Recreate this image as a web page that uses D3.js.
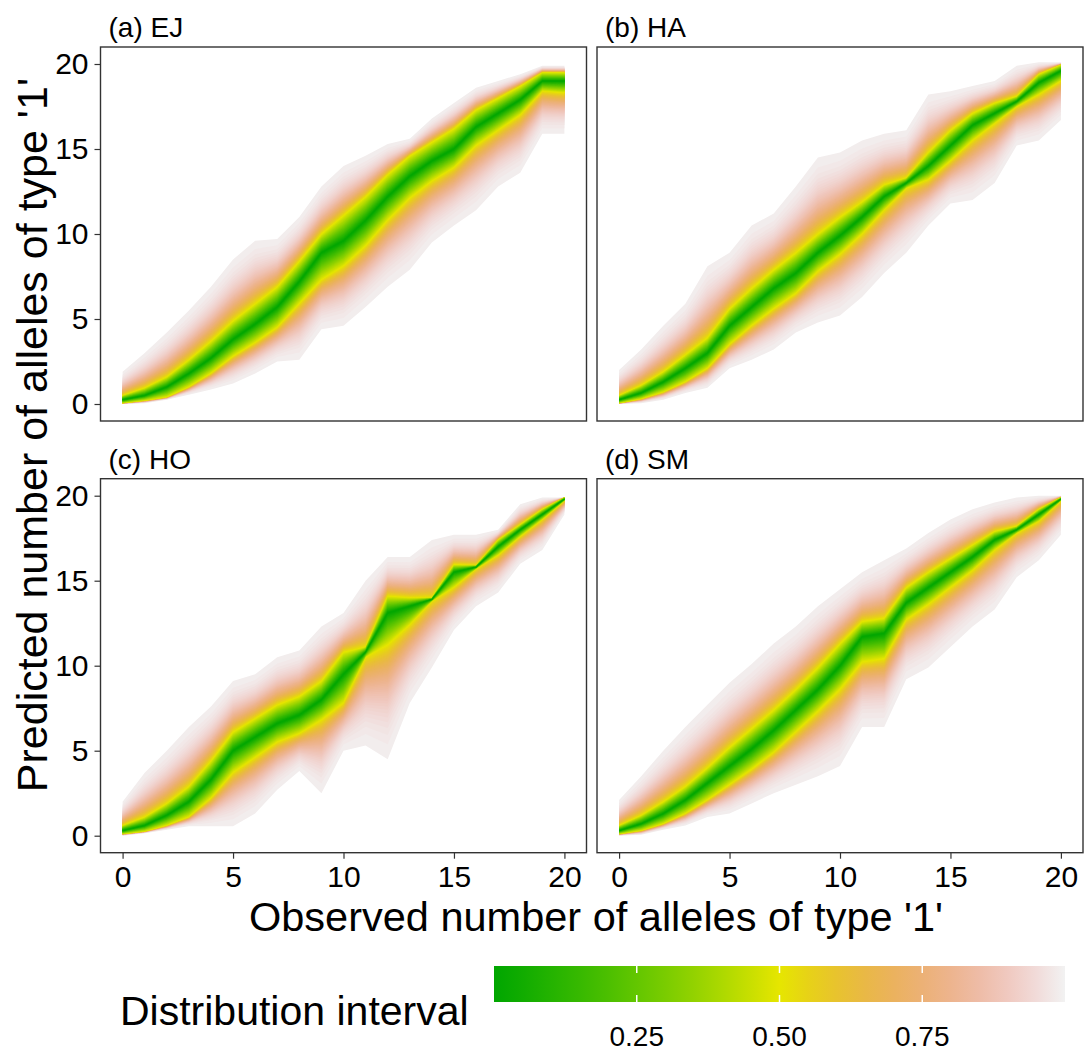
<!DOCTYPE html>
<html lang="en">
<head>
<meta charset="UTF-8">
<title>Distribution intervals</title>
<script src="https://d3js.org/d3.v7.min.js"></script>
<style>
  body { margin: 0; background: #fff; }
  svg text { font-family: "Liberation Sans", Arial, sans-serif; fill: #000; }
</style>
</head>
<body>
<svg width="1084" height="1055"></svg>
<script>
// observed counts (x axis)
const observed = [0,1,2,3,4,5,6,7,8,9,10,11,12,13,14,15,16,17,18,19,20];

// (a) EJ
const ejMed  = [0.25,0.5,1.0,1.8,2.7,3.8,4.7,5.7,7.2,8.9,9.6,10.8,12.2,13.4,14.3,15.0,16.3,17.1,17.9,19.0,19.0];
const ejLo50 = [0.05,0.2,0.4,1.0,1.8,2.8,3.6,4.5,5.9,7.3,8.1,9.3,10.8,12.1,13.1,13.9,15.2,16.1,17.0,18.4,18.3];
const ejHi50 = [0.5,0.95,1.6,2.6,3.7,4.9,5.9,6.9,8.4,10.0,11.1,12.2,13.5,14.6,15.4,16.2,17.3,18.0,18.7,19.5,19.5];
const ejLo99 = [0,0.05,0.25,0.55,0.85,1.2,1.8,2.5,2.6,4.4,4.6,5.7,6.9,7.9,9.5,10.5,11.4,12.8,13.6,15.9,15.9];
const ejHi99 = [1.9,3.0,4.2,5.5,6.9,8.5,9.6,9.7,11.0,12.8,14.0,14.6,15.3,15.6,16.8,17.7,18.6,19.0,19.4,19.9,19.9];

// (b) HA
const haMed  = [0.25,0.65,1.3,2.1,3.0,4.6,5.7,6.8,7.7,8.9,9.9,11.0,12.2,13.0,14.0,15.2,16.4,17.1,17.8,18.9,19.6];
const haLo50 = [0.05,0.3,0.7,1.3,2.1,3.5,4.6,5.6,6.5,7.8,8.8,10.0,11.4,12.7,13.2,14.3,15.5,16.5,17.5,18.2,19.0];
const haHi50 = [0.5,1.1,1.9,2.9,3.9,5.6,6.8,7.9,8.9,10.0,11.0,11.9,12.9,13.3,14.8,16.1,17.1,17.7,18.1,19.4,19.95];
const haLo99 = [0,0.05,0.25,0.65,0.95,2.1,2.6,3.2,4.2,4.8,5.2,6.3,7.7,8.9,10.5,11.8,12.0,13.0,15.2,15.5,16.7];
const haHi99 = [2.0,3.2,4.6,5.9,8.1,8.9,10.5,11.2,12.8,14.5,14.8,15.5,15.9,16.1,18.2,18.4,18.7,19.0,19.9,20.1,20.1];

// (c) HO
const hoMed  = [0.3,0.6,1.2,2.0,3.3,5.0,5.8,6.6,7.1,8.0,9.5,10.8,13.1,13.5,13.9,15.5,15.8,17.0,18.0,18.9,19.8];
const hoLo50 = [0.1,0.25,0.6,1.1,2.2,3.7,4.6,5.5,6.0,6.8,7.8,10.5,11.2,12.4,13.8,14.6,15.7,16.5,17.6,18.6,19.7];
const hoHi50 = [0.6,1.1,1.9,2.9,4.4,6.1,6.9,7.7,8.2,9.1,10.8,11.1,14.1,14.0,14.0,15.95,15.9,17.4,18.3,19.2,19.9];
const hoLo99 = [0,0.15,0.35,0.55,0.55,0.55,1.3,2.7,3.8,2.5,5.0,5.3,4.5,7.8,9.9,12.1,13.5,14.3,16.0,16.8,18.9];
const hoHi99 = [2.0,3.7,5.0,6.4,7.6,9.1,9.5,10.5,10.9,12.3,13.1,15.0,16.4,16.4,17.4,17.7,17.7,18.0,19.5,19.9,19.9];

// (d) SM
const smMed  = [0.3,0.7,1.3,2.1,3.1,4.1,5.1,6.2,7.4,8.6,10.0,11.7,11.9,13.7,14.6,15.5,16.4,17.4,18.0,18.9,19.8];
const smLo50 = [0.1,0.3,0.7,1.3,2.1,3.0,3.9,4.9,6.1,7.3,8.6,10.2,10.4,12.7,13.6,14.6,15.6,16.8,17.8,18.5,19.7];
const smHi50 = [0.6,1.2,2.0,2.9,4.0,5.2,6.3,7.4,8.6,9.9,11.3,12.6,12.8,14.6,15.5,16.3,17.1,17.9,18.2,19.2,19.9];
const smLo99 = [0,0.05,0.35,0.6,1.1,1.3,1.9,2.5,3.0,3.5,4.1,6.4,6.4,9.2,9.9,11.1,12.3,13.3,15.2,16.2,17.7];
const smHi99 = [2.1,3.5,5.0,6.4,7.7,9.0,10.1,11.3,12.3,13.5,14.5,15.5,16.2,16.9,17.8,18.6,19.2,19.6,19.9,20.0,20.0];

const panelLabels = ["(a) EJ", "(b) HA", "(c) HO", "(d) SM"];
const axisTicks = [0, 5, 10, 15, 20];
const legendTicks = [0.25, 0.50, 0.75];

const panels = [
  { label: panelLabels[0], med: ejMed, lo50: ejLo50, hi50: ejHi50, lo99: ejLo99, hi99: ejHi99, col: 0, row: 0 },
  { label: panelLabels[1], med: haMed, lo50: haLo50, hi50: haHi50, lo99: haLo99, hi99: haHi99, col: 1, row: 0 },
  { label: panelLabels[2], med: hoMed, lo50: hoLo50, hi50: hoHi50, lo99: hoLo99, hi99: hoHi99, col: 0, row: 1 },
  { label: panelLabels[3], med: smMed, lo50: smLo50, hi50: smHi50, lo99: smLo99, hi99: smHi99, col: 1, row: 1 }
];

// terrain.colors style ramp: green -> yellow -> light grey
function terrain(t) {
  let h, s, v;
  if (t <= 0.5) { const u = t / 0.5; h = 120 - 60 * u; s = 1; v = 0.65 + 0.25 * u; }
  else { const u = (t - 0.5) / 0.5; h = 60 - 60 * u; s = 1 - u; v = 0.9 + 0.05 * u; }
  const c = v * s, hp = h / 60, xx = c * (1 - Math.abs(hp % 2 - 1)), m = v - c;
  let r = 0, g = 0, b = 0;
  if (hp < 1) { r = c; g = xx; } else if (hp < 2) { r = xx; g = c; } else { g = c; b = xx; }
  return d3.rgb((r + m) * 255, (g + m) * 255, (b + m) * 255).formatHex();
}

// normal quantile, used to shade between the read interval edges
function probit(q) {
  const t = Math.sqrt(-2 * Math.log(1 - q));
  return t - (2.515517 + 0.802853 * t + 0.010328 * t * t) /
    (1 + 1.432788 * t + 0.189269 * t * t + 0.001308 * t * t * t);
}
const zOf = p => Math.max(0, probit((1 + p) / 2));
const z50 = zOf(0.5), z99 = zOf(0.99);
function bound(med, b50, b99, p) {
  if (p <= 0.5) return med + (b50 - med) * zOf(p) / z50;
  return b50 + (b99 - b50) * (zOf(p) - z50) / (z99 - z50);
}

const svg = d3.select("svg");
const defs = svg.append("defs");

const colX = [100.5, 597], rowY = [47, 478.7];
const pw = 486, ph = 374;

// shading levels, widest first
const levels = d3.range(99, 0, -1).map(k => k / 100);

panels.forEach((p, pi) => {
  const left = colX[p.col], top = rowY[p.row];
  const x = d3.scaleLinear().domain([-1, 21]).range([left, left + pw]);
  const y = d3.scaleLinear().domain([-1, 21]).range([top + ph, top]);

  const rows = observed.map((o, i) => ({ obs: o, med: p.med[i], lo50: p.lo50[i], hi50: p.hi50[i], lo99: p.lo99[i], hi99: p.hi99[i] }));

  defs.append("clipPath").attr("id", "clip" + pi)
    .append("rect").attr("x", left).attr("y", top).attr("width", pw).attr("height", ph);

  const g = svg.append("g").attr("clip-path", "url(#clip" + pi + ")");

  levels.forEach(lv => {
    const area = d3.area()
      .x(d => x(d.obs))
      .y0(d => y(bound(d.med, d.lo50, d.lo99, lv)))
      .y1(d => y(bound(d.med, d.hi50, d.hi99, lv)));
    g.append("path")
      .attr("d", area(rows))
      .attr("fill", terrain(lv));
  });

  // panel border
  svg.append("rect")
    .attr("x", left).attr("y", top).attr("width", pw).attr("height", ph)
    .attr("fill", "none").attr("stroke", "#333").attr("stroke-width", 1.4);

  // strip label
  svg.append("text")
    .attr("x", left + 8).attr("y", top - 10)
    .attr("font-size", 28)
    .text(p.label);

  if (p.col === 0) {
    const ax = svg.append("g")
      .attr("transform", "translate(" + left + ",0)")
      .call(d3.axisLeft(y).tickValues(axisTicks).tickSize(6).tickPadding(6));
    ax.select(".domain").remove();
    ax.selectAll("line").attr("stroke", "#333").attr("stroke-width", 1.2);
    ax.selectAll("text").attr("font-size", 30).attr("fill", "#000")
      .style("font-family", "'Liberation Sans', Arial, sans-serif");
  }
  if (p.row === 1) {
    const ax = svg.append("g")
      .attr("transform", "translate(0," + (top + ph) + ")")
      .call(d3.axisBottom(x).tickValues(axisTicks).tickSize(6).tickPadding(7));
    ax.select(".domain").remove();
    ax.selectAll("line").attr("stroke", "#333").attr("stroke-width", 1.2);
    ax.selectAll("text").attr("font-size", 30).attr("fill", "#000")
      .style("font-family", "'Liberation Sans', Arial, sans-serif");
  }
});

// axis titles
svg.append("text")
  .attr("x", 596).attr("y", 931)
  .attr("text-anchor", "middle")
  .attr("font-size", 41.5)
  .text("Observed number of alleles of type '1'");

svg.append("text")
  .attr("transform", "translate(47,435) rotate(-90)")
  .attr("text-anchor", "middle")
  .attr("font-size", 43)
  .text("Predicted number of alleles of type '1'");

// colour legend
const lx = d3.scaleLinear().domain([0, 1]).range([494, 1065]);
const grad = defs.append("linearGradient").attr("id", "legendGrad")
  .attr("x1", "0%").attr("x2", "100%").attr("y1", "0%").attr("y2", "0%");
d3.range(0, 21).map(k => k / 20).forEach(t => {
  grad.append("stop").attr("offset", (t * 100) + "%").attr("stop-color", terrain(t));
});

svg.append("rect")
  .attr("x", lx(0)).attr("y", 966)
  .attr("width", lx(1) - lx(0)).attr("height", 36)
  .attr("fill", "url(#legendGrad)");

legendTicks.forEach(t => {
  svg.append("line").attr("x1", lx(t)).attr("x2", lx(t)).attr("y1", 966).attr("y2", 973)
    .attr("stroke", "#fff").attr("stroke-width", 1.5);
  svg.append("line").attr("x1", lx(t)).attr("x2", lx(t)).attr("y1", 995).attr("y2", 1002)
    .attr("stroke", "#fff").attr("stroke-width", 1.5);
  svg.append("text")
    .attr("x", lx(t)).attr("y", 1046)
    .attr("text-anchor", "middle")
    .attr("font-size", 28)
    .text(d3.format(".2f")(t));
});

svg.append("text")
  .attr("x", 120).attr("y", 1025)
  .attr("font-size", 41)
  .text("Distribution interval");
</script>
</body>
</html>
